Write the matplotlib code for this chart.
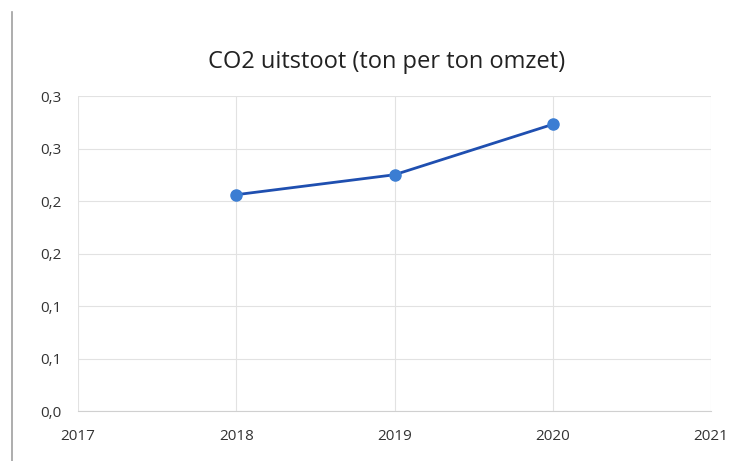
import matplotlib
matplotlib.use("Agg")
import matplotlib.pyplot as plt
from matplotlib.lines import Line2D
from matplotlib.ticker import FixedLocator

years = [2018, 2019, 2020]
co2 = [0.206, 0.225, 0.273]
x_ticks = [2017, 2018, 2019, 2020, 2021]
y_ticks = [0.0, 0.05, 0.10, 0.15, 0.20, 0.25, 0.30]
y_labels = ["0,0", "0,1", "0,1", "0,2", "0,2", "0,3", "0,3"]
title = "CO2 uitstoot (ton per ton omzet)"

plt.rcParams['font.family'] = ['Open Sans', 'DejaVu Sans']

fig = plt.figure(figsize=(7.54, 4.61), dpi=100)
ax = fig.add_axes([78/754, 1-411/461, (711-78)/754, (411-96)/461])

ax.plot(years, co2, color='#1f4fb0', lw=2, marker='o', markersize=8,
        markerfacecolor='#3b7dd3', markeredgecolor='#3b7dd3', zorder=3)

ax.set_xlim(2017, 2021)
ax.set_ylim(0, 0.3)
ax.xaxis.set_major_locator(FixedLocator(x_ticks))
ax.yaxis.set_major_locator(FixedLocator(y_ticks))
ax.set_xticklabels([str(v) for v in x_ticks])
ax.set_yticklabels(y_labels)
ax.grid(True, color='#e2e2e2', lw=0.8)
ax.set_axisbelow(True)
for s in ['top', 'right', 'left']:
    ax.spines[s].set_visible(False)
ax.spines['bottom'].set_color('#d0d0d0')
ax.tick_params(length=0, labelsize=11, colors='#333333')
ax.tick_params(axis='x', pad=13)
ax.tick_params(axis='y', pad=12)

fig.text(386.5/754, 1-62/461, title, ha='center', va='center',
         fontsize=17, color='#222222')

fig.add_artist(Line2D([12/754, 12/754], [0, 1-12/461], color='#a0a0a0', lw=1.2,
                      transform=fig.transFigure))

fig.savefig("out.png", dpi=100)
